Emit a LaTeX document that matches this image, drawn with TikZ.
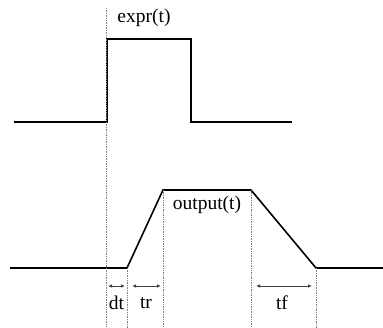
\documentclass[tikz,border=0pt]{standalone}
\usepackage{fontspec}
\setmainfont{Liberation Serif}
\usetikzlibrary{arrows.meta}
\begin{document}
\begin{tikzpicture}[x=1pt,y=-1pt,
  sig/.style={line width=1.6pt,line join=miter},
  guide/.style={gray,densely dotted,line width=0.7pt},
  dim/.style={{Latex[length=4pt,width=3.5pt]}-{Latex[length=4pt,width=3.5pt]},line width=0.8pt,black!75},
  lbl/.style={font=\fontsize{19.5}{21}\selectfont,inner sep=0pt}]
\useasboundingbox (0,0) rectangle (383,328);
% top signal
\coordinate (a0) at (14,122);
\coordinate (a1) at (107,122);
\coordinate (a2) at (107,39);
\coordinate (a3) at (191,39);
\coordinate (a4) at (191,122);
\coordinate (a5) at (292,122);
\draw[sig] (a0) -- (a1) -- (a2) -- (a3) -- (a4) -- (a5);
\node[lbl] (expr) at (144,18) {expr(t)};
% bottom signal
\coordinate (b0) at (10,268);
\coordinate (b1) at (127,268);
\coordinate (b2) at (163,190);
\coordinate (b3) at (251,190);
\coordinate (b4) at (316,268);
\coordinate (b5) at (383,268);
\draw[sig] (b0) -- (b1) -- (b2) -- (b3) -- (b4) -- (b5);
\node[lbl] (out) at (207,205) {output(t)};
% guides
\coordinate (g0t) at (106,8);  \coordinate (g0b) at (106,328);
\coordinate (g1b) at (127,328);
\coordinate (g2b) at (163,328);
\coordinate (g3b) at (251,328);
\coordinate (g4b) at (316,328);
\draw[guide] (g0t) -- (g0b);
\draw[guide] (b1) -- (g1b);
\draw[guide] (b2) -- (g2b);
\draw[guide] (b3) -- (g3b);
\draw[guide] (b4) -- (g4b);
% dimension arrows
\coordinate (d1) at (108,286); \coordinate (d2) at (125,286);
\coordinate (r1) at (132,286); \coordinate (r2) at (161,286);
\coordinate (f1) at (256,286); \coordinate (f2) at (312,286);
\draw[dim] (d1) -- (d2);
\draw[dim] (r1) -- (r2);
\draw[dim] (f1) -- (f2);
\node[lbl] (dt) at (116.5,303) {dt};
\node[lbl] (tr) at (146,303) {tr};
\node[lbl] (tf) at (282,303) {tf};
\end{tikzpicture}
\end{document}
